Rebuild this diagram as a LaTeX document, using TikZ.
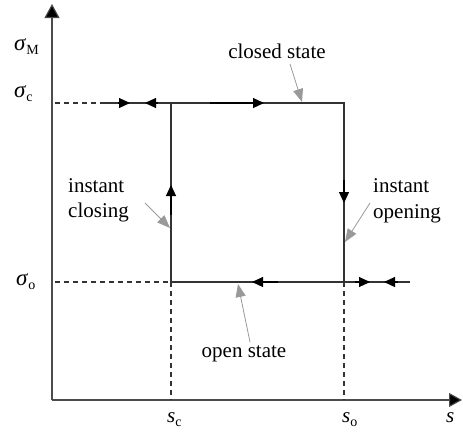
\documentclass[tikz,border=0pt]{standalone}
\usepackage{fontspec}
\setmainfont{Liberation Serif}
\usetikzlibrary{arrows.meta}
\tikzset{
  axisline/.style={draw=black!70, line width=1.1pt},
  mainline/.style={draw=black!80, line width=1.1pt},
  dashline/.style={draw=black!80, line width=1.1pt, dash pattern=on 5pt off 4pt},
  flowarrow/.style={black, line width=1.2pt, -{Triangle[length=11pt,width=10pt]}},
  grayarrow/.style={draw=black!40, line width=0.8pt, -{Triangle[length=13pt,width=10pt,fill=black!40]}},
  lbl/.style={inner sep=0pt, font=\fontsize{21}{25}\selectfont},
}
\newcommand{\mysub}[2]{\textit{#1}\raisebox{-0.45ex}{\fontsize{14}{14}\selectfont #2}}
\begin{document}
\begin{tikzpicture}[x=1pt,y=-1pt]
\useasboundingbox (0,0) rectangle (463,431);
% key coordinates
\coordinate (O) at (52,400);
\coordinate (ytop) at (52,4);
\coordinate (xend) at (462,400);
\coordinate (cl) at (171,103);
\coordinate (cr) at (344,103);
\coordinate (ol) at (171,282);
\coordinate (or) at (344,282);
\coordinate (cstart) at (100,103);
\coordinate (oend) at (410,282);
\coordinate (cdash) at (55,103);
\coordinate (odash) at (55,282);
\coordinate (sc) at (171,400);
\coordinate (so) at (344,400);
% axes
\draw[axisline, -{Triangle[length=14pt,width=15pt,fill=black]}] (O) -- (ytop);
\draw[axisline, -{Triangle[length=13pt,width=14pt,fill=black]}] (O) -- (xend);
% dashed guides
\draw[dashline] (cdash) -- (cstart);
\draw[dashline] (odash) -- (ol);
\draw[dashline] (ol) -- (sc);
\draw[dashline] (or) -- (so);
% loop
\draw[mainline] (cstart) -- (cr) -- (or);
\draw[mainline] (cl) -- (ol);
\draw[mainline] (ol) -- (oend);
% flow arrows
\coordinate (a1s) at (118,103); \coordinate (a1e) at (130,103);
\coordinate (a2s) at (158,103); \coordinate (a2e) at (145,103);
\coordinate (a3s) at (210,103); \coordinate (a3e) at (264,103);
\coordinate (a4s) at (344,180); \coordinate (a4e) at (344,203);
\coordinate (a5s) at (171,215); \coordinate (a5e) at (171,185);
\coordinate (a6s) at (278,282); \coordinate (a6e) at (252,282);
\coordinate (a7s) at (355,282); \coordinate (a7e) at (370,282);
\coordinate (a8s) at (398,282); \coordinate (a8e) at (384,282);
\foreach \s/\e in {a1s/a1e,a2s/a2e,a3s/a3e,a4s/a4e,a5s/a5e,a6s/a6e,a7s/a7e,a8s/a8e}
  \draw[flowarrow] (\s) -- (\e);
% labels
\node[lbl, anchor=base] (closed) at (277,58) {closed state};
\node[lbl, anchor=base] (open) at (244,357) {open state};
\node[lbl, anchor=base west] (ic1) at (68,192) {instant};
\node[lbl, anchor=base west] (ic2) at (68,217) {closing};
\node[lbl, anchor=base west] (io1) at (373,192) {instant};
\node[lbl, anchor=base west] (io2) at (373,218) {opening};
% gray pointers
\coordinate (g1s) at (290,64); \coordinate (g1e) at (302,102);
\coordinate (g2s) at (145,203); \coordinate (g2e) at (170,228);
\coordinate (g3s) at (370,203); \coordinate (g3e) at (345,242);
\coordinate (g4s) at (250,342); \coordinate (g4e) at (238,284);
\draw[grayarrow] (g1s) -- (g1e);
\draw[grayarrow] (g2s) -- (g2e);
\draw[grayarrow] (g3s) -- (g3e);
\draw[grayarrow] (g4s) -- (g4e);
% axis labels
\node[lbl, anchor=base west, font=\fontsize{23}{25}\selectfont] (sM) at (14,50) {\mysub{σ}{M}};
\node[lbl, anchor=base west, font=\fontsize{23}{25}\selectfont] (sC) at (14,97) {\mysub{σ}{c}};
\node[lbl, anchor=base west, font=\fontsize{23}{25}\selectfont] (sO) at (16,285) {\mysub{σ}{o}};
\node[lbl, anchor=base west] (ssc) at (167,422) {\mysub{s}{c}};
\node[lbl, anchor=base west] (sso) at (342,422) {\mysub{s}{o}};
\node[lbl, anchor=base west] (ss) at (446,422) {\textit{s}};
\end{tikzpicture}
\end{document}
